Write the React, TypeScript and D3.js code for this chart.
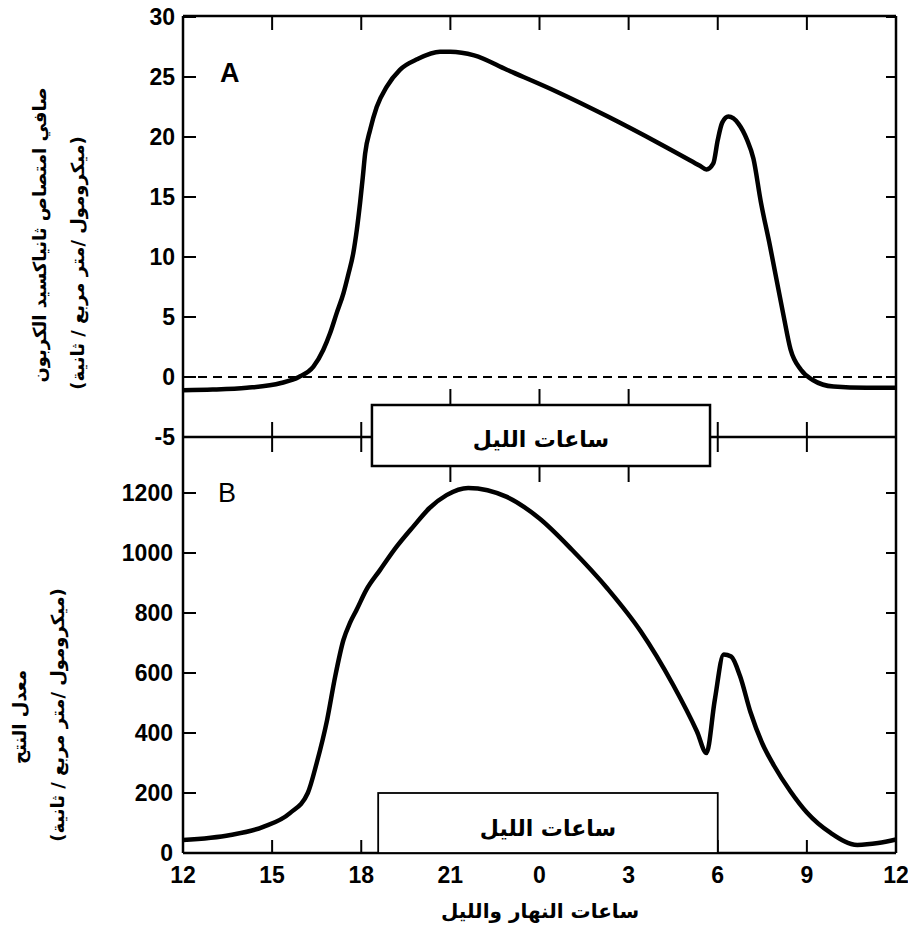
import * as d3 from "d3";

// ── Data (hours counted from noon; 0 = 12:00, 24 = next 12:00) ──
const hoursA = [0, 1, 2.15, 3.3, 3.9, 4.39, 4.72, 4.95, 5.17, 5.4, 5.57, 5.73, 5.85, 5.96, 6.05, 6.13, 6.3, 6.52, 6.86, 7.3, 7.9, 8.65, 9.0, 9.8, 10.9, 12.6, 14.3, 16.0, 17.4, 17.62, 17.85, 18.0, 18.15, 18.36, 18.7, 18.98, 19.2, 19.45, 19.76, 20.2, 20.45, 20.8, 21.2, 21.9, 23, 24];
const co2A = [-1.1, -1.05, -0.9, -0.5, 0, 0.86, 2.25, 3.64, 5.3, 6.97, 8.6, 10.3, 12.25, 14.5, 16.6, 18.6, 20.6, 22.5, 24.2, 25.6, 26.5, 27.1, 27.1, 26.8, 25.6, 23.75, 21.7, 19.5, 17.6, 17.3, 17.8, 19.75, 21.2, 21.7, 21.1, 19.8, 18.2, 14.6, 10.9, 5.3, 2.3, 0.6, -0.25, -0.8, -0.9, -0.9];

const hoursB = [0, 1.6, 2.7, 3.6, 4.2, 4.5, 4.85, 5.12, 5.4, 5.62, 5.84, 6.17, 6.63, 7.19, 7.75, 8.3, 8.87, 9.6, 10.9, 12.0, 13.1, 14.3, 15.4, 16.5, 17.3, 17.62, 17.9, 18.2, 18.45, 18.75, 19.1, 19.5, 19.9, 20.45, 21.0, 21.8, 22.7, 23.4, 24];
const transB = [43, 60, 87, 133, 200, 300, 443, 587, 710, 767, 810, 877, 943, 1021, 1088, 1150, 1193, 1217, 1187, 1115, 1010, 880, 740, 560, 405, 333, 510, 662, 655, 590, 470, 365, 290, 205, 135, 67, 27, 33, 45];

const xTickHours = [0, 3, 6, 9, 12, 15, 18, 21, 24];
const xTickLabels = ["12", "15", "18", "21", "0", "3", "6", "9", "12"];
const yTicksA = [-5, 0, 5, 10, 15, 20, 25, 30];
const yTicksB = [0, 200, 400, 600, 800, 1000, 1200];

// night boxes, in hours from noon
const nightA = [6.36, 17.74];
const nightB = [6.57, 18.0];

const nightLabel = "ساعات الليل";
const xTitle = "ساعات النهار والليل";
const yTitleA = ["صافي امتصاص ثانياكسيد الكربون", "(ميكرومول /متر مربع / ثانية)"];
const yTitleB = ["معدل النتح", "(ميكرومول /متر مربع / ثانية)"];

// ── Layout ────────────────────────────────────────────────
const W = 908;
const H = 941;
const X0 = 183;
const X1 = 896;
const TOP = 16;
const MID = 437;
const BOT = 853;

const x = d3.scaleLinear().domain([0, 24]).range([X0, X1]);
const yA = d3.scaleLinear().domain([-5, 30]).range([MID, 17]);
const yB = d3.scaleLinear().domain([0, 1200]).range([BOT, 493]);

const pathA = d3.line<[number, number]>()
  .x(d => x(d[0]))
  .y(d => yA(d[1]))
  .curve(d3.curveMonotoneX)(hoursA.map((h, i) => [h, co2A[i]] as [number, number]));
const pathB = d3.line<[number, number]>()
  .x(d => x(d[0]))
  .y(d => yB(d[1]))
  .curve(d3.curveMonotoneX)(hoursB.map((h, i) => [h, transB[i]] as [number, number]));

const NUM = "'Liberation Sans', Arial, sans-serif";
const AR = "'DejaVu Sans', sans-serif";

export default function App() {
  const inner = xTickHours.slice(1, -1);
  return (
    <svg width={W} height={H} viewBox={`0 0 ${W} ${H}`}
      style={{ position: "absolute", left: 0, top: 0, background: "#fff" }}>
      <rect width={W} height={H} fill="#fff" />

      {/* frame */}
      <g stroke="#000" strokeWidth={2.5} fill="none">
        <line x1={X0} x2={X1} y1={TOP} y2={TOP} />
        <line x1={X0} x2={X1} y1={MID} y2={MID} />
        <line x1={X0} x2={X1} y1={BOT} y2={BOT} />
        <line x1={X0} x2={X0} y1={TOP} y2={BOT} />
        <line x1={X1} x2={X1} y1={TOP} y2={BOT} />
      </g>

      {/* x ticks */}
      <g stroke="#000" strokeWidth={2}>
        {inner.map(h => (
          <g key={h}>
            <line x1={x(h)} x2={x(h)} y1={TOP} y2={TOP + 14} />
            {h > 6 && h < 18
              ? <line x1={x(h)} x2={x(h)} y1={MID - 48} y2={MID + 45} />
              : <line x1={x(h)} x2={x(h)} y1={MID - 15} y2={MID + 15} />}
            <line x1={x(h)} x2={x(h)} y1={BOT} y2={BOT - 13} />
          </g>
        ))}
      </g>

      {/* y ticks */}
      <g stroke="#000" strokeWidth={2}>
        {yTicksA.map(v => (
          <g key={v}>
            <line x1={X0} x2={X0 + 13} y1={yA(v)} y2={yA(v)} />
            <line x1={X1} x2={X1 - 10} y1={yA(v)} y2={yA(v)} />
          </g>
        ))}
        {yTicksB.map(v => (
          <g key={v}>
            <line x1={X0} x2={X0 + 13} y1={yB(v)} y2={yB(v)} />
            <line x1={X1} x2={X1 - 10} y1={yB(v)} y2={yB(v)} />
          </g>
        ))}
      </g>

      {/* tick labels */}
      <g fontFamily={NUM} fontSize={23} fontWeight="bold" fill="#000" textAnchor="end">
        {yTicksA.map(v => (
          <text key={v} x={X0 - 8} y={yA(v) + 8}>{v}</text>
        ))}
        {yTicksB.map(v => (
          <text key={v} x={X0 - 10} y={yB(v) + 8}>{v}</text>
        ))}
      </g>
      <g fontFamily={NUM} fontSize={23} fontWeight="bold" fill="#000" textAnchor="middle">
        {xTickHours.map((h, i) => (
          <text key={h} x={x(h)} y={BOT + 30}>{xTickLabels[i]}</text>
        ))}
      </g>

      {/* zero reference */}
      <line x1={X0} x2={X1} y1={yA(0)} y2={yA(0)} stroke="#000" strokeWidth={2} strokeDasharray="9 6" />

      {/* curves */}
      <path d={pathA ?? ""} fill="none" stroke="#000" strokeWidth={4.5} strokeLinejoin="round" />
      <path d={pathB ?? ""} fill="none" stroke="#000" strokeWidth={4.5} strokeLinejoin="round" />

      {/* night boxes */}
      <rect x={x(nightA[0])} y={405} width={x(nightA[1]) - x(nightA[0])} height={61}
        fill="#fff" stroke="#000" strokeWidth={2.5} />
      <text x={(x(nightA[0]) + x(nightA[1])) / 2} y={447} textAnchor="middle"
        fontFamily={AR} fontWeight="bold" fontSize={22}>{nightLabel}</text>
      <rect x={x(nightB[0])} y={yB(200)} width={x(nightB[1]) - x(nightB[0])} height={BOT - yB(200)}
        fill="#fff" stroke="#000" strokeWidth={1.8} />
      <text x={(x(nightB[0]) + x(nightB[1])) / 2} y={836} textAnchor="middle"
        fontFamily={AR} fontWeight="bold" fontSize={22}>{nightLabel}</text>

      {/* panel letters */}
      <text x={220} y={82} fontFamily={NUM} fontWeight="bold" fontSize={27}>A</text>
      <text x={218} y={502} fontFamily={NUM} fontSize={27}>B</text>

      {/* axis titles */}
      <text x={540} y={918} textAnchor="middle" fontFamily={AR} fontWeight="bold" fontSize={20}>{xTitle}</text>
      <g fontFamily={AR} fontWeight="bold" fontSize={18} textAnchor="middle">
        <text transform={`translate(46,235) rotate(-90)`}>{yTitleA[0]}</text>
        <text transform={`translate(84,263) rotate(-90)`}>{yTitleA[1]}</text>
        <text transform={`translate(26,717) rotate(-90)`}>{yTitleB[0]}</text>
        <text transform={`translate(64,715) rotate(-90)`}>{yTitleB[1]}</text>
      </g>
    </svg>
  );
}
